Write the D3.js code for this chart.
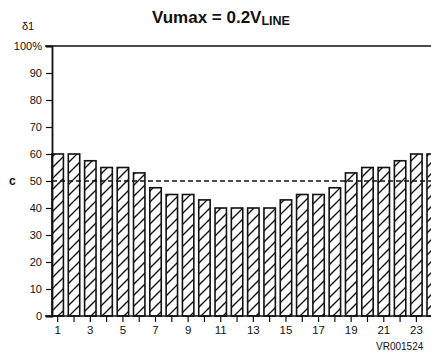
<!DOCTYPE html>
<meta charset="utf-8">
<html>
<head>
<script src="https://d3js.org/d3.v7.min.js"></script>
<style>
  body { margin: 0; background: white; }
  text { font-family: "Liberation Sans", Arial, sans-serif; fill: #111; }
</style>
</head>
<body>
<svg id="chart"></svg>
<script>
// harmonic numbers and their share (percent)
var harmonics = d3.range(1, 25);
var shares = [60, 60, 57.5, 55, 55, 53, 47.5, 45, 45, 43, 40, 40,
              40, 40, 43, 45, 45, 47.5, 53, 55, 55, 57.5, 60, 60];
var yTicks = [0, 10, 20, 30, 40, 50, 60, 70, 80, 90, 100];
var refLevel = 50;

var width = 431, height = 354;
var margin = {top: 46, left: 52, bottom: 38};
var step = 16.1;

var svg = d3.select("#chart")
    .attr("width", width)
    .attr("height", height);

// hatch pattern
var defs = svg.append("defs");
var pat = defs.append("pattern")
    .attr("id", "hatch")
    .attr("patternUnits", "userSpaceOnUse")
    .attr("width", 11)
    .attr("height", 11);
pat.append("rect").attr("width", 11).attr("height", 11).attr("fill", "white");
pat.append("path")
    .attr("d", "M-2,2 L2,-2 M0,11 L11,0 M9,13 L13,9")
    .attr("stroke", "#111")
    .attr("stroke-width", 1.4);

var x = d3.scaleBand()
    .domain(harmonics)
    .range([margin.left, margin.left + step * 24])
    .paddingInner(0.3)
    .paddingOuter(0);

var y = d3.scaleLinear()
    .domain([0, 100])
    .range([316, margin.top]);

// bars
svg.selectAll("rect.bar")
    .data(harmonics)
    .enter()
    .append("rect")
    .attr("class", "bar")
    .attr("x", function(d) { return x(d); })
    .attr("y", function(d, i) { return y(shares[i]); })
    .attr("width", x.bandwidth())
    .attr("height", function(d, i) { return y(0) - y(shares[i]); })
    .attr("fill", "url(#hatch)")
    .attr("stroke", "#111")
    .attr("stroke-width", 1.6);

// dashed reference line
svg.append("line")
    .attr("x1", margin.left)
    .attr("x2", width)
    .attr("y1", y(refLevel))
    .attr("y2", y(refLevel))
    .attr("stroke", "#111")
    .attr("stroke-width", 1.3)
    .attr("stroke-dasharray", "5,3");

// top line
svg.append("line")
    .attr("x1", 45).attr("x2", width)
    .attr("y1", y(100)).attr("y2", y(100))
    .attr("stroke", "#111").attr("stroke-width", 1.5);

// y axis
var yAxis = svg.append("g")
    .attr("transform", "translate(" + margin.left + ",0)")
    .call(d3.axisLeft(y).tickValues(yTicks).tickSize(6).tickPadding(4)
          .tickFormat(function(d) { return d === 100 ? "100%" : d; }));
yAxis.select(".domain").attr("stroke-width", 1.8).attr("stroke", "#111");
yAxis.selectAll(".tick line").attr("stroke", "#111").attr("stroke-width", 1.2);
yAxis.selectAll(".tick text").style("font-size", "11px").attr("fill", "#111")
    .style("font-family", "Liberation Sans, Arial, sans-serif");

// x axis
var xAxis = svg.append("g")
    .attr("transform", "translate(0," + y(0) + ")")
    .call(d3.axisBottom(x).tickSize(6).tickPadding(4)
          .tickFormat(function(d) { return d % 2 === 1 ? d : ""; }));
xAxis.select(".domain").attr("d", "M45,0H" + width).attr("stroke", "#111").attr("stroke-width", 1.6);
xAxis.selectAll(".tick line").attr("stroke", "#111").attr("stroke-width", 1.2);
xAxis.selectAll(".tick text").style("font-size", "11.5px").attr("fill", "#111")
    .style("font-family", "Liberation Sans, Arial, sans-serif");

// labels
svg.append("text")
    .attr("x", 22).attr("y", 30)
    .style("font-size", "11px")
    .text("δ1");

svg.append("text")
    .attr("x", 9).attr("y", y(refLevel) + 4)
    .style("font-size", "12px")
    .style("font-weight", "bold")
    .text("c");

var title = svg.append("text")
    .attr("x", 152).attr("y", 23)
    .style("font-size", "17px")
    .style("font-weight", "bold");
title.append("tspan").text("Vumax = 0.2V");
title.append("tspan").attr("dy", 2).style("font-size", "12.5px").text("LINE");

svg.append("text")
    .attr("x", 376).attr("y", 350)
    .style("font-size", "10px")
    .text("VR001524");
</script>
</body>
</html>
